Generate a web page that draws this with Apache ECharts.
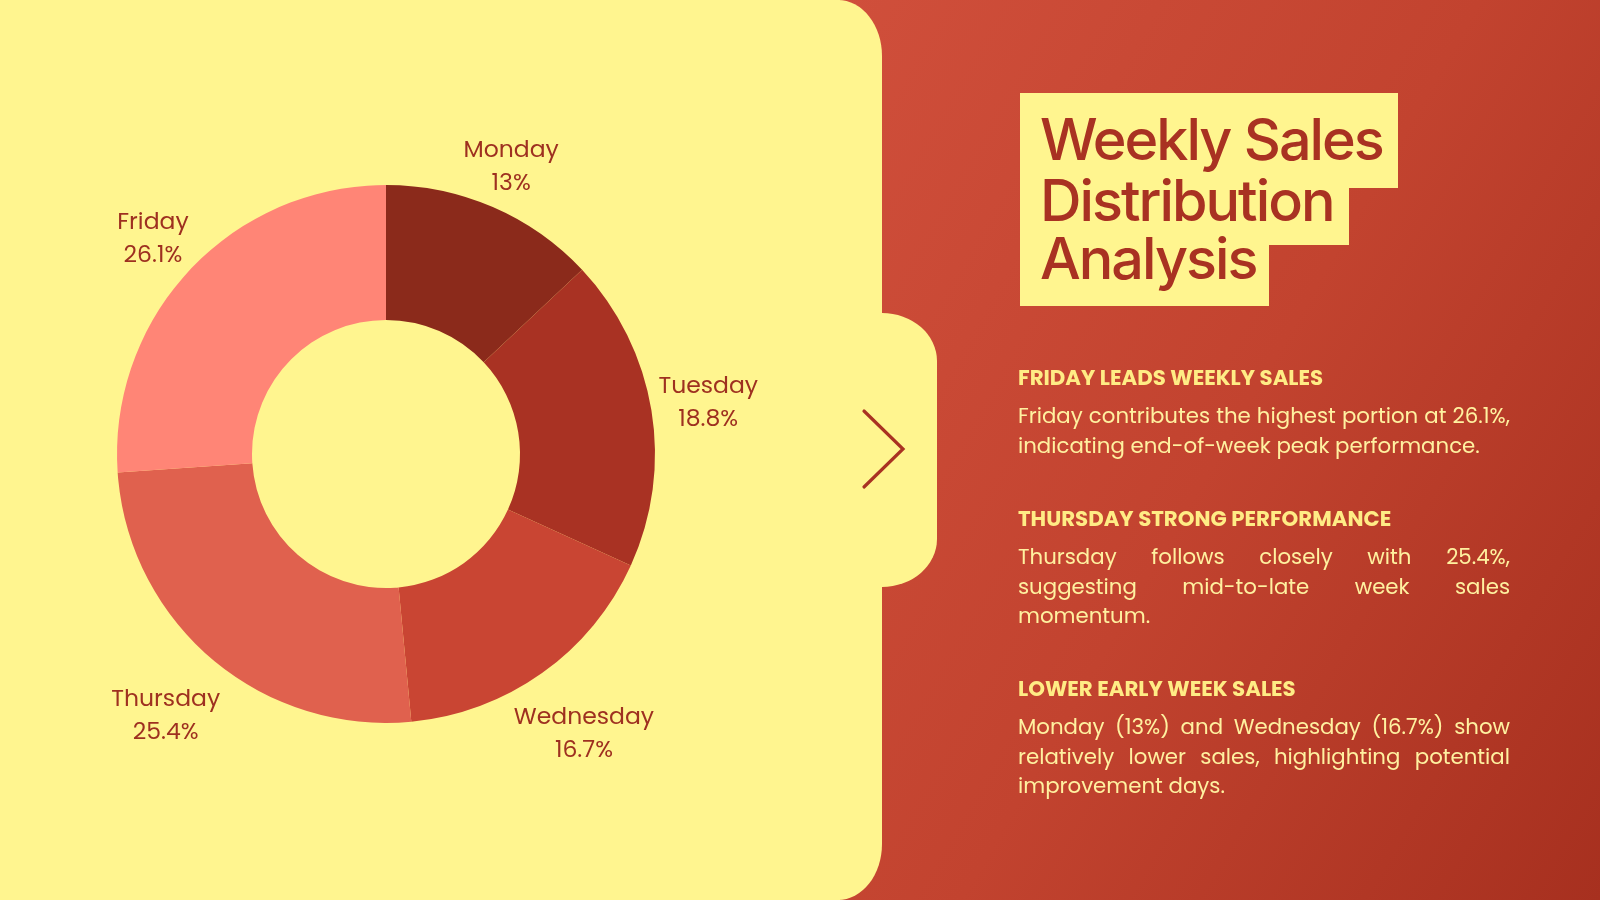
<!DOCTYPE html>
<html>
<head>
<meta charset="utf-8">
<script src="https://cdn.jsdelivr.net/npm/echarts@6/dist/echarts.min.js"></script>
<style>
html, body { margin: 0; padding: 0; width: 1600px; height: 900px; overflow: hidden; }
body { position: relative; background: #FFF58F; font-family: 'Poppins', 'Open Sans', sans-serif; }
#redPanel { position: absolute; left: 840px; top: 0; width: 760px; height: 900px;
  background: linear-gradient(120deg, #D04F3B 0%, #C2432F 50%, #A7301F 100%); }
#leftPanel { position: absolute; left: 0; top: 0; width: 882px; height: 900px; background: #FFF58F;
  border-top-right-radius: 44px 56px; border-bottom-right-radius: 44px 56px; }
#tab { position: absolute; left: 860px; top: 313px; width: 77px; height: 274px; background: #FFF58F;
  border-top-right-radius: 55px 48px; border-bottom-right-radius: 55px 48px; }
#chart { position: absolute; left: 0; top: 0; width: 1600px; height: 900px; }
#title { position: absolute; left: 1020px; top: 93px; font-family: 'Inter', sans-serif; font-weight: 500;
  font-size: 57.5px; color: #A93222; letter-spacing: -2px; }
#title div { background: #FFF58F; display: table; padding: 0 15px 0 20px; white-space: nowrap; }
#title .l1 { height: 95px; line-height: 93px; }
#title .l2 { height: 57px; line-height: 24px; }
#title .l3 { height: 61px; line-height: 27px; padding-right: 13px; }
.sec { position: absolute; left: 1018px; width: 492px; }
.sec h3 { margin: 0; font-family: 'Poppins', 'Open Sans', sans-serif; font-weight: 700; font-size: 21.3px;
  color: #FFEC85; line-height: 28px; height: 28px; white-space: nowrap; }
.sec .ln { font-size: 21.3px; color: #FFF1A0; line-height: 29.5px; height: 29.5px; white-space: nowrap; }
.sec .j { text-align: justify; text-align-last: justify; white-space: normal; }
</style>
</head>
<body>
<div id="redPanel"></div>
<div id="leftPanel"></div>
<div id="tab"></div>
<div id="chart"></div>

<div id="title">
  <div class="l1">Weekly Sales</div>
  <div class="l2">Distribution</div>
  <div class="l3">Analysis</div>
</div>

<div class="sec" style="top:364px;">
  <h3>FRIDAY LEADS WEEKLY SALES</h3>
  <div style="height:9px"></div>
  <div class="ln j">Friday contributes the highest portion at 26.1%,</div>
  <div class="ln">indicating end-of-week peak performance.</div>
</div>

<div class="sec" style="top:505px;">
  <h3>THURSDAY STRONG PERFORMANCE</h3>
  <div style="height:9px"></div>
  <div class="ln j">Thursday follows closely with 25.4%,</div>
  <div class="ln j">suggesting mid-to-late week sales</div>
  <div class="ln">momentum.</div>
</div>

<div class="sec" style="top:675px;">
  <h3>LOWER EARLY WEEK SALES</h3>
  <div style="height:9px"></div>
  <div class="ln j">Monday (13%) and Wednesday (16.7%) show</div>
  <div class="ln j">relatively lower sales, highlighting potential</div>
  <div class="ln">improvement days.</div>
</div>

<script>
// ---- data ----
var days = ['Monday', 'Tuesday', 'Wednesday', 'Thursday', 'Friday'];
var shares = [13, 18.8, 16.7, 25.4, 26.1];
var sliceColors = ['#8B2A1B', '#A93223', '#C94533', '#E0614E', '#FF8576'];

// ---- layout constants ----
var CX = 386, CY = 454, R_OUT = 269, R_IN = 134;
var LABEL_DIST = 60;   // label centre distance beyond outer radius
var LABEL_DROP = 15;   // labels below the centre sit slightly further out
var LABEL_SHIFT_Y = 3;

var total = shares.reduce(function (a, b) { return a + b; }, 0);

var chart = echarts.init(document.getElementById('chart'), null, { renderer: 'canvas' });

chart.setOption({
  backgroundColor: 'transparent',
  animation: false,
  graphic: [{
    type: 'polyline',
    shape: { points: [[864, 411], [903, 449], [864, 487]] },
    style: { stroke: '#A93222', lineWidth: 3.2, fill: null, lineCap: 'round', lineJoin: 'miter' },
    z: 10
  }],
  series: [{
    type: 'pie',
    center: [CX, CY],
    radius: [R_IN, R_OUT],
    startAngle: 90,
    clockwise: true,
    avoidLabelOverlap: false,
    itemStyle: { borderWidth: 0 },
    label: {
      show: true,
      position: 'outside',
      color: '#9E3020',
      fontFamily: "Poppins, 'Open Sans', sans-serif",
      fontSize: 23.5,
      lineHeight: 33,
      formatter: function (p) { return p.name + '\n' + p.value + '%'; }
    },
    labelLine: { show: false },
    labelLayout: function (p) {
      var i = p.dataIndex, before = 0;
      for (var j = 0; j < i; j++) before += shares[j];
      var mid = (before + shares[i] / 2) / total * 2 * Math.PI;
      var sx = Math.sin(mid), sy = -Math.cos(mid);
      var d = R_OUT + LABEL_DIST + LABEL_DROP * sy;
      return { x: CX + d * sx, y: CY + d * sy + LABEL_SHIFT_Y, align: 'center', verticalAlign: 'middle' };
    },
    emphasis: { disabled: true },
    data: days.map(function (d, i) {
      return { name: d, value: shares[i], itemStyle: { color: sliceColors[i] } };
    })
  }]
});
</script>
</body>
</html>
